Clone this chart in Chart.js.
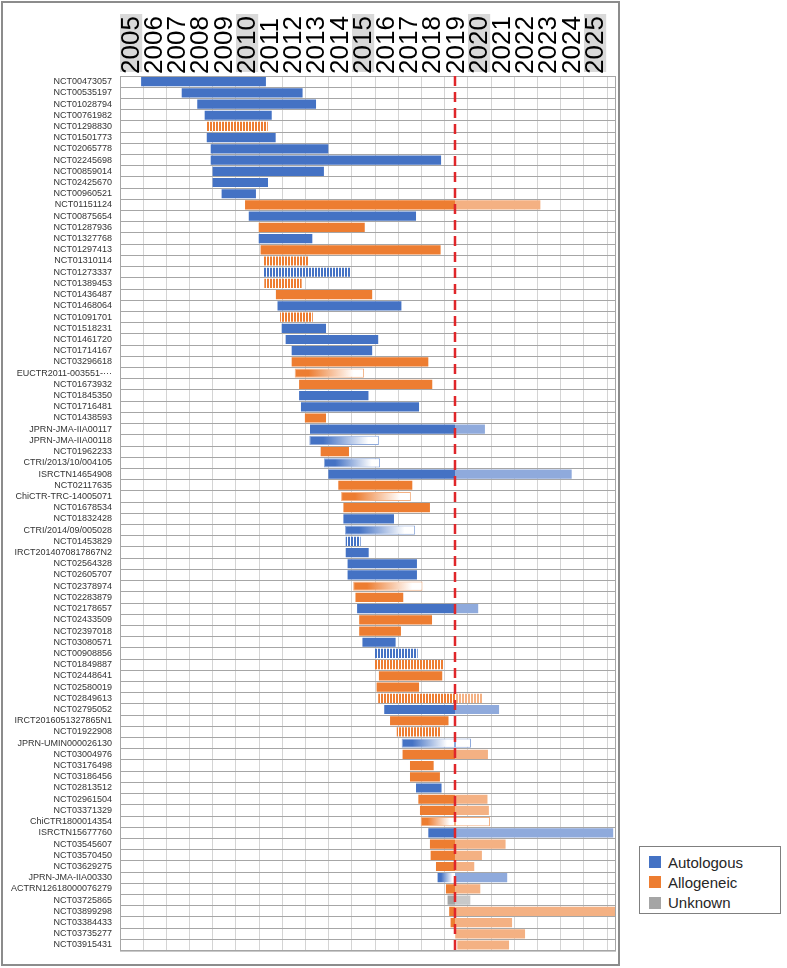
<!DOCTYPE html>
<html>
<head>
<meta charset="utf-8">
<script src="https://cdn.jsdelivr.net/npm/chart.js@4.4.1/dist/chart.umd.min.js"></script>
<style>
  body { margin: 0; background: #fff; font-family: "Liberation Sans", Arial, sans-serif; }
  #frame { position: absolute; left: 1px; top: 1px; width: 615px; height: 961px; border: 2px solid #8c8c8c; }
  #frame canvas { position: absolute; left: 0; top: 0; }
  .legendBox { position: absolute; left: 639px; top: 846px; width: 142px; height: 68px;
    border: 1px solid #7f7f7f; box-sizing: border-box; padding-top: 5px; }
  .legendBox .label { display: flex; align-items: center; height: 20.3px; font-size: 15px; color: #262626; padding-left: 9px; }
  .legendBox .sw { width: 12px; height: 12px; margin-right: 7px; }
</style>
</head>
<body>
<div id="frame"><canvas id="chart" width="615" height="961"></canvas></div>
<div class="legendBox">
  <div class="label"><span class="sw" style="background:#4472C4"></span>Autologous</div>
  <div class="label"><span class="sw" style="background:#ED7D31"></span>Allogeneic</div>
  <div class="label"><span class="sw" style="background:#A5A5A5"></span>Unknown</div>
</div>
<script>
// trial registry ids, top to bottom
const trials = [
  "NCT00473057", "NCT00535197", "NCT01028794", "NCT00761982", "NCT01298830", "NCT01501773",
  "NCT02065778", "NCT02245698", "NCT00859014", "NCT02425670", "NCT00960521", "NCT01151124",
  "NCT00875654", "NCT01287936", "NCT01327768", "NCT01297413", "NCT01310114", "NCT01273337",
  "NCT01389453", "NCT01436487", "NCT01468064", "NCT01091701", "NCT01518231", "NCT01461720",
  "NCT01714167", "NCT03296618", "EUCTR2011-003551-\u00b7\u00b7\u00b7", "NCT01673932", "NCT01845350", "NCT01716481",
  "NCT01438593", "JPRN-JMA-IIA00117", "JPRN-JMA-IIA00118", "NCT01962233", "CTRI/2013/10/004105", "ISRCTN14654908",
  "NCT02117635", "ChiCTR-TRC-14005071", "NCT01678534", "NCT01832428", "CTRI/2014/09/005028", "NCT01453829",
  "IRCT2014070817867N2", "NCT02564328", "NCT02605707", "NCT02378974", "NCT02283879", "NCT02178657",
  "NCT02433509", "NCT02397018", "NCT03080571", "NCT00908856", "NCT01849887", "NCT02448641",
  "NCT02580019", "NCT02849613", "NCT02795052", "IRCT2016051327865N1", "NCT01922908", "JPRN-UMIN000026130",
  "NCT03004976", "NCT03176498", "NCT03186456", "NCT02813512", "NCT02961504", "NCT03371329",
  "ChiCTR1800014354", "ISRCTN15677760", "NCT03545607", "NCT03570450", "NCT03629275", "JPRN-JMA-IIA00330",
  "ACTRN12618000076279", "NCT03725865", "NCT03899298", "NCT03384433", "NCT03735277", "NCT03915431"
];

// start / end as decimal years
const starts = [
  2005.91, 2007.66, 2008.33, 2008.65, 2008.72, 2008.74, 2008.91, 2008.91, 2008.99, 2008.99, 2009.38, 2010.39,
  2010.55, 2010.98, 2010.98, 2011.06, 2011.18, 2011.18, 2011.22, 2011.72, 2011.79, 2011.90, 2011.97, 2012.14,
  2012.40, 2012.40, 2012.53, 2012.72, 2012.72, 2012.80, 2012.97, 2013.19, 2013.16, 2013.65, 2013.79, 2013.98,
  2014.41, 2014.53, 2014.63, 2014.63, 2014.70, 2014.73, 2014.73, 2014.81, 2014.81, 2015.05, 2015.15, 2015.22,
  2015.31, 2015.31, 2015.45, 2015.96, 2015.95, 2016.16, 2016.06, 2016.13, 2016.39, 2016.64, 2016.93, 2017.14,
  2017.18, 2017.50, 2017.50, 2017.76, 2017.86, 2017.93, 2017.96, 2018.29, 2018.36, 2018.39, 2018.62, 2018.69,
  2019.05, 2019.12, 2019.19, 2019.25, 2019.45, 2019.54
];
const ends = [
  2011.29, 2012.87, 2013.45, 2011.54, 2011.37, 2011.71, 2013.98, 2018.84, 2013.79, 2011.38, 2010.86, 2023.12,
  2017.76, 2015.55, 2013.29, 2018.82, 2013.12, 2014.94, 2012.83, 2015.87, 2017.13, 2013.31, 2013.88, 2016.13,
  2015.87, 2018.29, 2015.52, 2018.46, 2015.71, 2017.89, 2013.88, 2020.73, 2016.16, 2014.87, 2016.21, 2024.47,
  2017.60, 2017.54, 2018.36, 2016.81, 2017.72, 2015.37, 2015.72, 2017.80, 2017.80, 2018.04, 2017.21, 2020.44,
  2018.45, 2017.11, 2016.88, 2017.83, 2018.93, 2018.89, 2017.89, 2020.61, 2021.34, 2019.16, 2018.84, 2020.13,
  2020.86, 2018.52, 2018.79, 2018.86, 2020.84, 2020.90, 2020.95, 2026.26, 2021.62, 2020.60, 2020.27, 2021.69,
  2020.53, 2020.10, 2026.38, 2021.90, 2022.46, 2021.77
];
// A = autologous, G = allogeneic, U = unknown
const types = [
  "A", "A", "A", "A", "G", "A", "A", "A", "A", "A", "A", "G",
  "A", "G", "A", "G", "G", "A", "G", "G", "A", "G", "A", "A",
  "A", "G", "G", "G", "A", "A", "G", "A", "A", "G", "A", "A",
  "G", "G", "G", "A", "A", "A", "A", "A", "A", "G", "G", "A",
  "G", "G", "A", "A", "G", "G", "G", "G", "A", "G", "G", "A",
  "G", "G", "G", "A", "G", "G", "G", "A", "G", "G", "G", "A",
  "G", "U", "G", "G", "G", "G"
];
// S = solid, H = hatched, F = faded, FS = faded then solid
const styles = [
  "S", "S", "S", "S", "H", "S", "S", "S", "S", "S", "S", "S",
  "S", "S", "S", "S", "H", "H", "H", "S", "S", "H", "S", "S",
  "S", "S", "F", "S", "S", "S", "S", "S", "F", "S", "F", "S",
  "S", "F", "S", "S", "F", "H", "S", "S", "S", "F", "S", "S",
  "S", "S", "S", "H", "H", "S", "S", "H", "S", "S", "H", "F",
  "S", "S", "S", "S", "S", "S", "F", "S", "S", "S", "S", "FS",
  "S", "S", "S", "S", "S", "S"
];
const years = [2005, 2006, 2007, 2008, 2009, 2010, 2011, 2012, 2013, 2014, 2015,
  2016, 2017, 2018, 2019, 2020, 2021, 2022, 2023, 2024, 2025, 2026];
const shadedYears = [2005, 2010, 2015, 2020, 2025];
const CUTOFF = 2019.44;

const COLORS = { A: "#4472C4", G: "#ED7D31", U: "#A5A5A5" };
const LIGHT = { A: "#8FAADC", G: "#F4B183", U: "#C9C9C9" };

const patterns = {};
function hatch(color) {
  if (!patterns[color]) {
    const c = document.createElement("canvas");
    c.width = 3; c.height = 1;
    const g = c.getContext("2d");
    g.fillStyle = "#fff"; g.fillRect(0, 0, 3, 1);
    g.fillStyle = color; g.fillRect(0, 0, 2, 1);
    patterns[color] = document.createElement("canvas").getContext("2d").createPattern(c, "repeat");
  }
  return patterns[color];
}

function fade(ctx, color, from, to) {
  const xs = ctx.chart.scales.x;
  const x0 = xs.getPixelForValue(from), x1 = xs.getPixelForValue(to);
  if (!isFinite(x0) || !isFinite(x1) || x1 <= x0) return color;
  const g = ctx.chart.ctx.createLinearGradient(x0, 0, x1, 0);
  g.addColorStop(0, color);
  g.addColorStop(0.2, color);
  g.addColorStop(0.85, "#fff");
  g.addColorStop(1, "#fff");
  return g;
}

const beforeData = starts.map((s, i) => (s < CUTOFF ? [s, Math.min(ends[i], CUTOFF)] : null));
const afterData = ends.map((e, i) => (e > CUTOFF ? [Math.max(starts[i], CUTOFF), e] : null));

// gray boxes behind every fifth year
const yearShade = {
  id: "yearShade",
  beforeDraw(chart) {
    const xs = chart.scales.x, top = chart.chartArea.top;
    const c = chart.ctx;
    c.save();
    c.fillStyle = "#d9d9d9";
    shadedYears.forEach((y) => {
      const x0 = xs.getPixelForValue(y), x1 = xs.getPixelForValue(y + 1);
      c.fillRect(x0, top - 62, x1 - x0 - 1, 58);
    });
    c.restore();
  },
};

// dashed red line at the cutoff date + plot frame
const cutoffLine = {
  id: "cutoffLine",
  afterDatasetsDraw(chart) {
    const { top, bottom, left, right } = chart.chartArea;
    const c = chart.ctx;
    const x = chart.scales.x.getPixelForValue(CUTOFF);
    c.save();
    c.strokeStyle = "#a6a6a6";
    c.lineWidth = 1;
    c.strokeRect(left + 0.5, top + 0.5, right - left - 1, bottom - top);
    c.strokeStyle = "#e0262a";
    c.lineWidth = 2.5;
    c.setLineDash([10, 6]);
    c.beginPath();
    c.moveTo(x, top);
    c.lineTo(x, bottom);
    c.stroke();
    c.restore();
  },
};

new Chart(document.getElementById("chart"), {
  type: "bar",
  data: {
    labels: trials,
    datasets: [
      {
        label: "to date",
        data: beforeData,
        backgroundColor: (ctx) => {
          if (ctx.type !== "data") return COLORS.A;
          const i = ctx.dataIndex, c = COLORS[types[i]];
          if (styles[i] === "H") return hatch(c);
          if (styles[i] === "F" || styles[i] === "FS") return fade(ctx, c, starts[i], Math.min(ends[i], CUTOFF));
          return c;
        },
        borderColor: (ctx) => (ctx.type === "data" ? LIGHT[types[ctx.dataIndex]] : LIGHT.A),
        borderWidth: (ctx) => (ctx.type === "data" && styles[ctx.dataIndex] === "F" ? 1 : 0),
      },
      {
        label: "planned",
        data: afterData,
        backgroundColor: (ctx) => {
          if (ctx.type !== "data") return LIGHT.A;
          const i = ctx.dataIndex, c = LIGHT[types[i]];
          if (styles[i] === "H") return hatch(c);
          if (styles[i] === "F") return "#fff";
          return c;
        },
        borderColor: (ctx) => (ctx.type === "data" ? LIGHT[types[ctx.dataIndex]] : LIGHT.A),
        borderWidth: (ctx) => (ctx.type === "data" && styles[ctx.dataIndex] === "F" ? 1 : 0),
      },
    ],
  },
  options: {
    indexAxis: "y",
    responsive: false,
    animation: false,
    layout: { padding: { top: 0, right: 2, bottom: 7, left: 0 } },
    datasets: { bar: { grouped: false, barPercentage: 0.82, categoryPercentage: 1, borderSkipped: false } },
    plugins: { legend: { display: false }, tooltip: { enabled: false } },
    scales: {
      x: {
        type: "linear",
        position: "top",
        min: 2005,
        max: 2026.38,
        afterBuildTicks: (s) => { s.ticks = years.map((v) => ({ value: v })); },
        afterFit: (s) => { s.height = 73; },
        grid: { color: "#d4d4d4", drawTicks: false },
        border: { display: false },
        ticks: {
          minRotation: 90,
          maxRotation: 90,
          autoSkip: false,
          padding: 2,
          // rotated top labels sit one line-height left of the tick in Chart.js
          labelOffset: 11.6 + 31.2,
          color: "#000",
          font: { family: "Liberation Sans", size: 26 },
          callback: (v) => (v <= 2025 ? String(v) : ""),
        },
      },
      y: {
        afterFit: (s) => { s.width = 117; },
        grid: { color: "#a6a6a6", drawTicks: false },
        border: { color: "#a6a6a6" },
        ticks: { autoSkip: false, padding: 8, color: "#333", font: { family: "Liberation Sans", size: 9 } },
      },
    },
  },
  plugins: [yearShade, cutoffLine],
});
</script>
</body>
</html>
